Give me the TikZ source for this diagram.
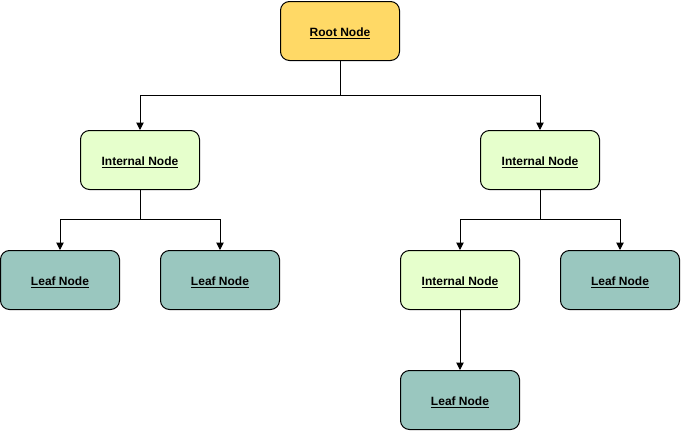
\documentclass[tikz,border=0pt]{standalone}
\usepackage{fontspec}
\setmainfont{Liberation Sans}
\usetikzlibrary{arrows.meta}
\definecolor{rootc}{HTML}{FFD966}
\definecolor{intc}{HTML}{E6FFCC}
\definecolor{leafc}{HTML}{9AC7BF}
\begin{document}
\begin{tikzpicture}[x=1pt,y=-1pt,
  box/.style={draw=black,line width=1pt,rounded corners=9pt,minimum width=119pt,minimum height=59pt,inner sep=0pt,text height=12pt,text depth=1pt,font=\fontsize{12}{14}\selectfont\bfseries},
  rootbox/.style={box,fill=rootc},
  intbox/.style={box,fill=intc},
  leafbox/.style={box,fill=leafc},
  conn/.style={draw=black,line width=1pt,-{Triangle[length=7.5pt,width=7.5pt]}}]
\useasboundingbox (0,0) rectangle (681,431);
\node[rootbox] (root) at (340,31) {\underline{Root Node}};
\node[intbox] (il) at (140,160) {\underline{Internal Node}};
\node[intbox] (ir) at (540,160) {\underline{Internal Node}};
\node[leafbox] (l1) at (60,280) {\underline{Leaf Node}};
\node[leafbox] (l2) at (220,280) {\underline{Leaf Node}};
\node[intbox] (im) at (460,280) {\underline{Internal Node}};
\node[leafbox] (l3) at (620,280) {\underline{Leaf Node}};
\node[leafbox] (l4) at (460,400) {\underline{Leaf Node}};
\draw[conn] (root.south) -- ++(0,34) -| (il.north);
\draw[conn] (root.south) -- ++(0,34) -| (ir.north);
\draw[conn] (il.south) -- ++(0,29.5) -| (l1.north);
\draw[conn] (il.south) -- ++(0,29.5) -| (l2.north);
\draw[conn] (ir.south) -- ++(0,29.5) -| (im.north);
\draw[conn] (ir.south) -- ++(0,29.5) -| (l3.north);
\draw[conn] (im.south) -- (l4.north);
\end{tikzpicture}
\end{document}
